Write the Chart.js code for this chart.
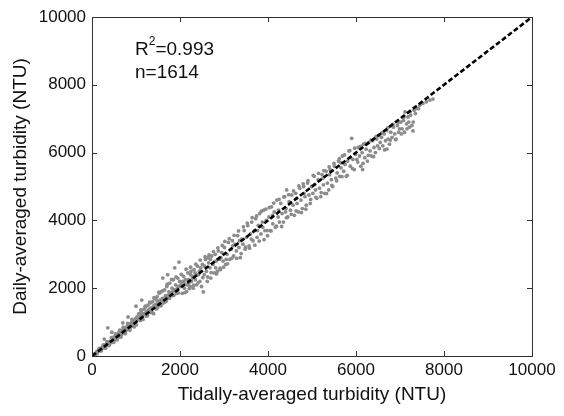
<!DOCTYPE html>
<html>
<head>
<meta charset="utf-8">
<script src="https://cdn.jsdelivr.net/npm/chart.js@4"></script>
<style>
  body { margin: 0; background: #fff; }
</style>
</head>
<body>
<canvas id="c" width="564" height="416"></canvas>
<script>
// tidally-averaged (x) vs daily-averaged (y) turbidity, NTU
const obs = [
  [20,30],[50,60],[80,70],[100,120],[120,110],[150,160],[170,150],[200,230],[220,200],[250,280],
  [270,240],[300,320],[320,300],[350,390],[370,340],[400,430],[420,380],[450,500],[470,440],[500,560],
  [360,830],[60,40],[130,150],[190,170],[240,260],[290,270],[330,350],[380,400],[430,410],[480,520],
  [520,480],[550,620],[580,550],[600,680],[620,590],[650,700],[680,640],[700,780],[720,690],[750,820],
  [770,740],[800,880],[820,790],[850,950],[870,830],[900,1000],[920,880],[950,1050],[970,930],[990,1100],
  [1000,1470],[610,560],[730,800],[880,900],[940,980],[540,560],[590,610],[640,660],[690,720],[740,760],
  [790,830],[840,860],[890,930],[930,960],[980,1020],
  [110,60],[160,220],[210,150],[260,330],[310,230],[340,420],[390,310],[440,540],[490,400],[530,650],
  [570,480],[630,760],[660,560],[710,850],[760,660],[810,960],[860,760],[910,1080],[960,860],[280,500],
  [450,700],[700,980],[820,1150],
  [1020,1150],[1050,1080],[1080,1250],[1100,1180],[1120,1300],[1150,1220],[1180,1380],[1200,1260],[1220,1450],[1250,1320],
  [1270,1500],[1300,1380],[1320,1560],[1350,1420],[1380,1600],[1400,1480],[1420,1700],[1450,1520],[1470,1650],[1490,1420],
  [1100,1050],[1230,1180],[1360,1300],[1480,1750],[1040,1100],[1090,1130],[1140,1200],[1190,1250],[1240,1300],[1290,1350],
  [1340,1400],[1390,1450],[1440,1500],
  [1010,920],[1060,1240],[1110,1360],[1160,1080],[1210,1470],[1260,1190],[1310,1590],[1330,1280],[1410,1720],[1460,1390],
  [1130,1650],[1400,1250],
  [1510,1600],[1530,1850],[1550,1650],[1580,1900],[1600,1700],[1620,1560],[1650,1950],[1670,1780],[1700,2050],[1720,1700],
  [1750,1900],[1770,2150],[1800,1850],[1820,2000],[1850,2250],[1870,1950],[1900,2100],[1920,1850],[1950,2300],[1970,2050],
  [1977,2770],[1990,2200],[1560,1500],[1690,1620],[1830,1780],[1500,1560],[1540,1600],[1590,1650],[1640,1700],[1680,1760],
  [1740,1800],[1790,1850],[1840,1900],[1890,1950],[1940,2000],
  [1520,1880],[1570,1480],[1610,1930],[1660,1590],[1710,2120],[1760,1700],[1810,2260],[1860,1790],[1910,2330],[1960,1860],
  [1610,2300],[1880,2600],[1720,2400],
  [2020,2100],[2050,1850],[2080,2350],[2100,2000],[2120,2250],[2150,1900],[2180,2450],[2200,2150],[2230,2050],[2250,2500],
  [2280,2300],[2300,2000],[2320,2550],[2350,2250],[2380,2100],[2400,2650],[2420,2400],[2450,2200],[2470,2600],[2490,2050],
  [2060,2200],[2170,2100],[2260,2200],[2340,2450],[2440,2500],[2000,2050],[2090,2150],[2190,2250],[2290,2350],[2390,2400],
  [2470,2500],[2030,2410],[2110,1870],[2140,2560],[2210,1990],[2240,2620],[2310,2090],[2360,2710],[2410,2160],[2460,2830],
  [2240,2400],
  [2510,2700],[2530,1890],[2550,2400],[2580,2850],[2600,2500],[2620,2200],[2650,2750],[2680,2600],[2700,2300],[2720,2950],
  [2750,2700],[2780,2450],[2800,3000],[2820,2800],[2850,2500],[2870,3100],[2900,2850],[2920,2550],[2950,3050],[2980,2800],
  [2560,2650],[2690,2850],[2810,2600],[2930,2900],[2520,2310],[2570,2930],[2630,2330],[2660,2980],[2710,2460],[2760,3080],
  [2830,2420],[2860,3190],[2910,2590],[2960,3260],[2990,2620],[2640,2900],
  [3010,3200],[3040,2700],[3070,3000],[3100,3350],[3130,2850],[3160,3150],[3190,3400],[3220,2950],[3250,3300],[3280,3100],
  [3310,3550],[3340,3200],[3370,2900],[3400,3450],[3430,3300],[3460,3700],[3480,3150],[3050,2850],[3200,3250],[3350,3400],
  [3020,3380],[3080,2720],[3120,3460],[3180,2890],[3230,3560],[3290,2880],[3330,3690],[3390,3020],[3440,3810],[3490,3210],
  [3510,3500],[3540,3850],[3570,3250],[3600,3600],[3630,3950],[3660,3400],[3690,3700],[3720,4050],[3750,3500],[3780,3850],
  [3810,4200],[3840,3600],[3870,3950],[3900,4300],[3930,3700],[3960,4000],[3990,3550],[3620,3450],[3760,3700],[3880,3800],
  [3530,3920],[3580,3180],[3640,4080],[3700,3270],[3740,4130],[3800,3390],[3850,4270],[3910,3430],[3950,4330],[3980,3700],
  [4020,4100],[4050,3700],[4080,4400],[4110,3900],[4140,4250],[4170,3800],[4200,4600],[4230,4100],[4260,3950],[4290,4500],
  [4320,4200],[4350,3950],[4380,4700],[4410,4350],[4424,4900],[4450,4100],[4480,4550],[4100,4150],[4240,4300],[4400,4250],
  [4030,4380],[4070,3690],[4130,4510],[4190,3830],[4250,4620],[4310,3820],[4360,4690],[4420,4080],[4470,4760],
  [4510,4300],[4540,4750],[4570,4450],[4600,4150],[4630,4800],[4660,4500],[4690,4250],[4720,4950],[4750,4600],[4780,4350],
  [4810,5000],[4840,4700],[4870,4450],[4900,5100],[4930,4750],[4960,4500],[4990,5000],[4650,4650],[4820,4800],
  [4530,4180],[4580,4870],[4640,4280],[4700,5020],[4760,4230],[4800,5080],[4860,4330],[4910,5170],[4970,4620],
  [5020,4800],[5050,5300],[5080,4900],[5110,4650],[5140,5200],[5170,4950],[5200,4700],[5230,5350],[5260,5050],[5290,4800],
  [5320,5450],[5350,5100],[5380,4900],[5410,5500],[5440,5200],[5470,5000],[5060,5050],[5250,5250],[5400,5350],
  [5030,5330],[5090,4680],[5150,5390],[5210,4820],[5270,5470],[5330,4790],[5390,5580],[5450,5030],
  [5510,5600],[5540,5250],[5570,5400],[5600,5750],[5630,5300],[5660,5550],[5690,5900],[5720,5450],[5750,5650],[5780,5300],
  [5810,5750],[5840,6050],[5870,5600],[5902,6420],[5930,5800],[5960,5500],[5990,5950],[5650,5700],[5880,5850],
  [5500,5680],[5560,5170],[5620,5820],[5680,5290],[5740,5930],[5800,5330],[5860,6060],[5920,5530],[5970,6130],
  [6020,5800],[6050,6150],[6080,5900],[6110,5600],[6140,6000],[6170,6250],[6200,5850],[6230,6100],[6260,5750],[6290,6300],
  [6320,6050],[6350,5900],[6380,6350],[6410,6150],[6440,6000],[6470,6400],[6490,6200],[6150,5500],
  [6040,5720],[6100,6180],[6160,5680],[6220,6270],[6280,5920],[6340,6370],[6400,5880],[6460,6480],
  [6520,6500],[6550,6300],[6580,6450],[6610,6200],[6640,6550],[6670,6350],[6700,6650],[6730,6400],[6760,6250],[6790,6600],
  [6820,6450],[6850,6750],[6880,6550],[6910,6400],[6940,6800],[6970,6600],[6990,6700],[6700,6100],
  [6530,6120],[6590,6580],[6650,6080],[6720,6730],[6780,6370],[6840,6830],[6900,6380],[6960,6890],
  [7020,6900],[7050,6700],[7080,6950],[7114,7200],[7150,6850],[7180,7050],[7210,6750],[7240,7100],[7295,6640],[7320,7250],
  [7380,7300],[7450,7400],[7520,7450],[7600,7500],[7680,7550],[7750,7580],[7200,6900],[7100,6600],
  [7030,6550],[7090,7050],[7160,6700],[7230,7200],[7270,6800],[7350,7150],[7420,7300],[7300,6900]
];
const oneToOne = [[0, 0], [10000, 10000]];
const axisTicks = [0, 2000, 4000, 6000, 8000, 10000];
const statsText = { r2: '0.993', n: '1614' };

const FONT = 'Arial, "Liberation Sans", sans-serif';

// MATLAB-like box with inward ticks on all four sides
const boxPlugin = {
  id: 'box',
  afterDraw(chart) {
    const { ctx, chartArea: a, scales } = chart;
    ctx.save();
    ctx.strokeStyle = '#333';
    ctx.lineWidth = 1;
    ctx.strokeRect(a.left + 0.5, a.top + 0.5, a.right - a.left, a.bottom - a.top);
    ctx.beginPath();
    axisTicks.forEach(v => {
      const px = Math.round(scales.x.getPixelForValue(v)) + 0.5;
      const py = Math.round(scales.y.getPixelForValue(v)) + 0.5;
      ctx.moveTo(px, a.bottom); ctx.lineTo(px, a.bottom - 5);
      ctx.moveTo(px, a.top); ctx.lineTo(px, a.top + 5);
      ctx.moveTo(a.left, py); ctx.lineTo(a.left + 5, py);
      ctx.moveTo(a.right, py); ctx.lineTo(a.right - 5, py);
    });
    ctx.stroke();

    // stats annotation
    ctx.fillStyle = '#111';
    ctx.textBaseline = 'alphabetic';
    ctx.font = '19px ' + FONT;
    const x0 = 135;
    ctx.fillText('R', x0, 55);
    const rw = ctx.measureText('R').width;
    ctx.font = '12px ' + FONT;
    ctx.fillText('2', x0 + rw, 45);
    const sw = ctx.measureText('2').width;
    ctx.font = '19px ' + FONT;
    ctx.fillText('=' + statsText.r2, x0 + rw + sw, 55);
    ctx.fillText('n=' + statsText.n, x0, 78);
    ctx.restore();
  }
};

new Chart(document.getElementById('c'), {
  type: 'scatter',
  data: {
    datasets: [
      {
        type: 'line',
        data: oneToOne.map(p => ({ x: p[0], y: p[1] })),
        borderColor: '#000',
        borderWidth: 2.6,
        borderDash: [5, 2.5],
        pointRadius: 0,
        fill: false,
        order: 0
      },
      {
        data: obs.map(p => ({ x: p[0], y: p[1] })),
        backgroundColor: 'rgb(140,140,140)',
        borderWidth: 0,
        pointRadius: 1.9,
        order: 1
      }
    ]
  },
  options: {
    responsive: false,
    animation: false,
    layout: { padding: { top: 17, right: 32, left: 0, bottom: 0 } },
    plugins: { legend: { display: false }, tooltip: { enabled: false } },
    scales: {
      x: {
        type: 'linear', min: 0, max: 10000,
        afterBuildTicks: s => { s.ticks = axisTicks.map(v => ({ value: v })); },
        afterFit: s => { s.height = 60; },
        grid: { display: false, drawTicks: false },
        border: { display: false },
        ticks: { padding: 4, maxRotation: 0, color: '#111', callback: v => String(v), font: { family: FONT, size: 17 } },
        title: {
          display: true, text: 'Tidally-averaged turbidity (NTU)', color: '#111',
          font: { family: FONT, size: 19 }, padding: { top: 0, bottom: 10 }
        }
      },
      y: {
        type: 'linear', min: 0, max: 10000,
        afterBuildTicks: s => { s.ticks = axisTicks.map(v => ({ value: v })); },
        afterFit: s => { s.width = 92; },
        grid: { display: false, drawTicks: false },
        border: { display: false },
        ticks: { padding: 6, color: '#111', callback: v => String(v), font: { family: FONT, size: 17 } },
        title: {
          display: true, text: 'Daily-averaged turbidity (NTU)', color: '#111',
          font: { family: FONT, size: 19 }, padding: { top: 9, bottom: 0 }
        }
      }
    }
  },
  plugins: [boxPlugin]
});
</script>
</body>
</html>
